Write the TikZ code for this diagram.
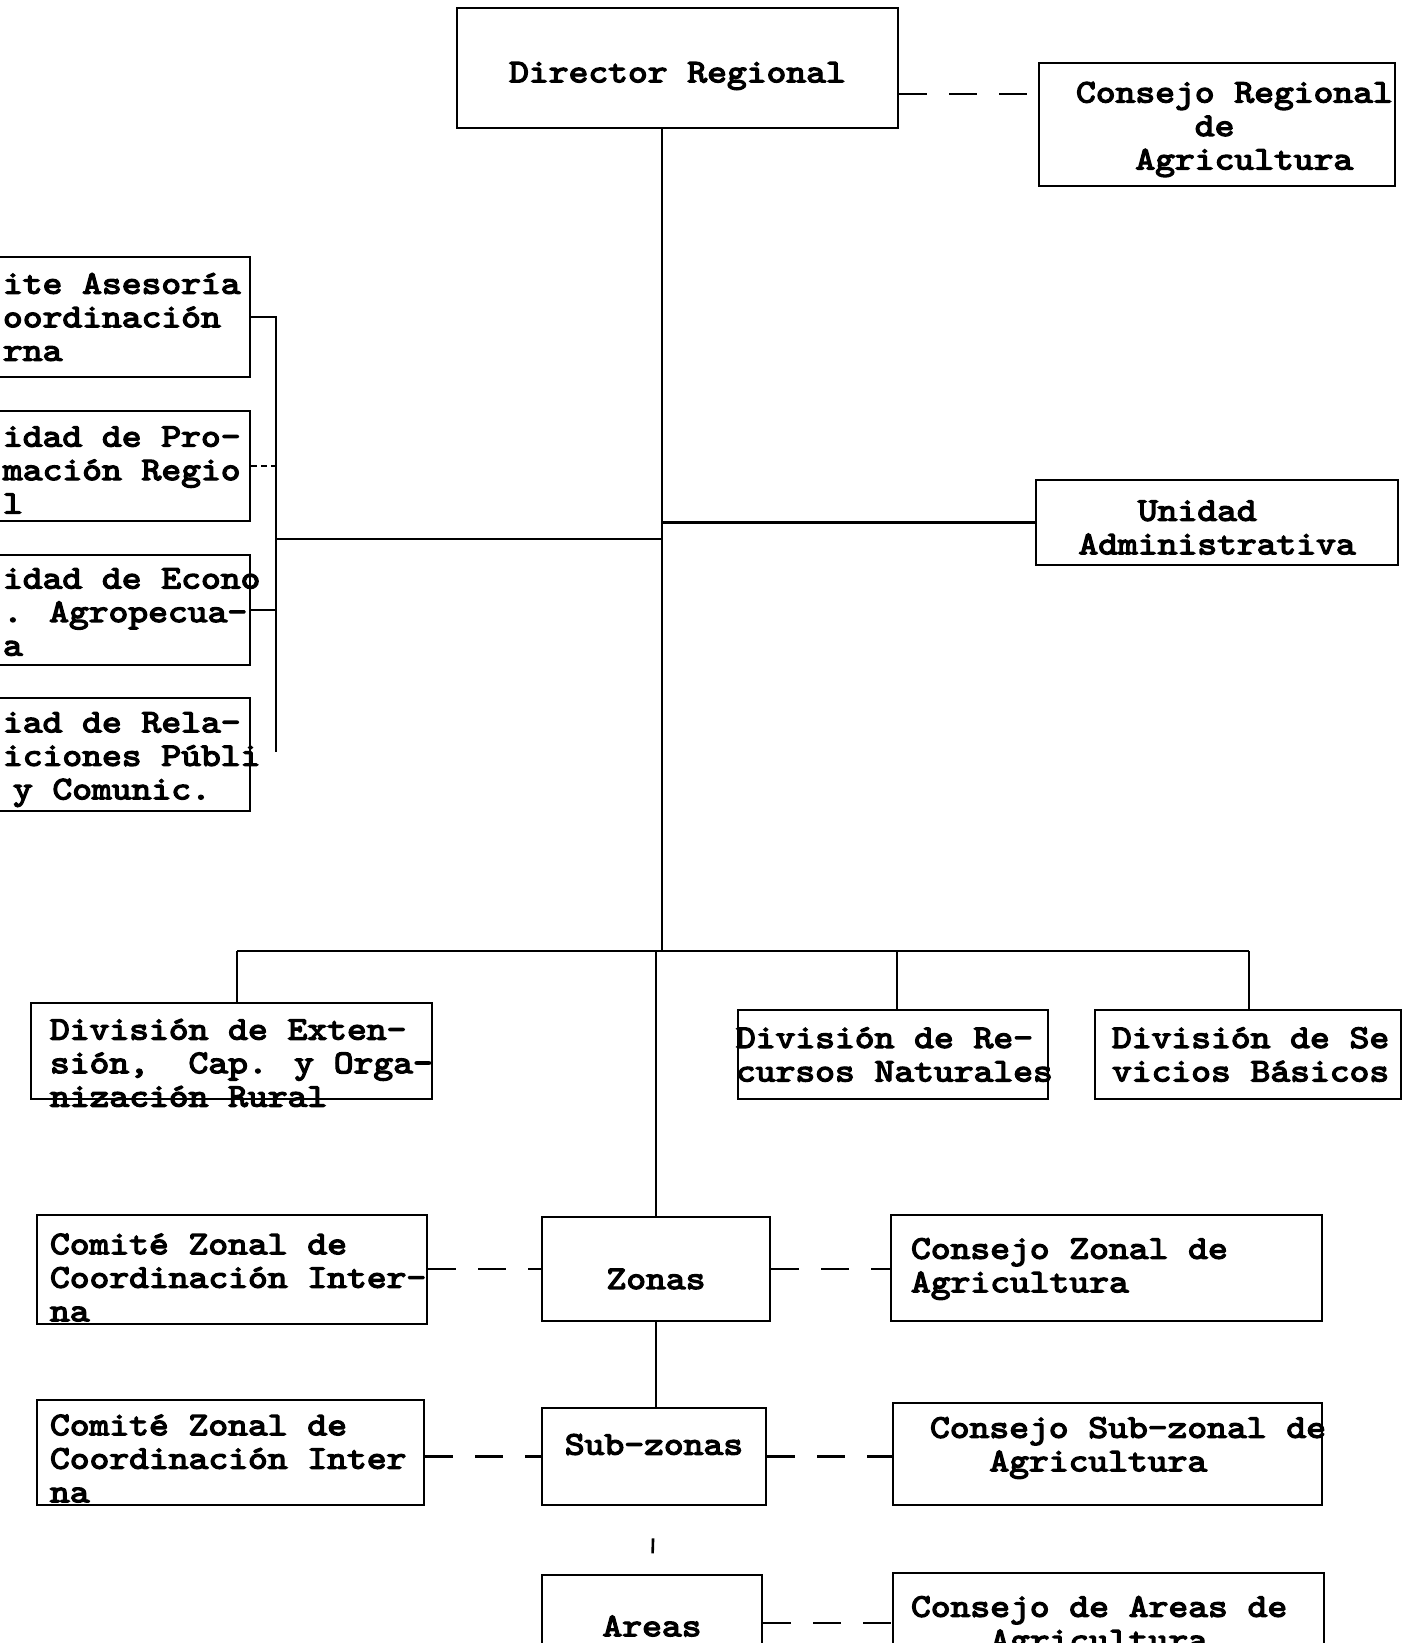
\documentclass[tikz,border=0pt]{standalone}
\usepackage{fontspec}
\usepackage{tikz}
\newfontfamily\twfam{lmmono10-regular.otf}[FakeStretch=1.143, FakeBold=4]
\newlength\chw \setlength\chw{19.8pt}
\newcommand\chs[1]{\hspace*{#1\chw}}
\newcommand\rowl[2]{\makebox[#1][l]{#2}}
\newcommand\twf{\twfam\fontsize{33}{33.5}\selectfont}
\tikzset{
  box/.style={draw=black, line width=2.8pt, inner sep=0pt},
  tx/.style={font=\twf, inner sep=0pt, align=left},
  link/.style={draw=black, line width=2.6pt},
  dlink/.style={link, dash pattern=on 28pt off 22pt},
}
\begin{document}
\begin{tikzpicture}[x=1pt,y=-1pt]
\useasboundingbox (0,0) rectangle (1406,1643);
\fill[white] (0,0) rectangle (1406,1643);
\clip (0,0) rectangle (1406,1643);

% top
\node[box, minimum width=441pt, minimum height=120pt,
  label={[tx, name=dirt, yshift=-8pt]center:{Director Regional}}] (dir) at (677.5,68) {};
\node[box, minimum width=356pt, minimum height=123pt,
  label={[tx, name=cregt, yshift=-5pt]center:{\rowl{282pt}{Consejo Regional}\\\rowl{282pt}{\chs{6}de}\\\rowl{282pt}{\chs{3}Agricultura}}}] (creg) at (1217,124.5) {};
\node[box, minimum width=362pt, minimum height=85pt,
  label={[tx, name=uat, yshift=-5pt]center:{\rowl{277pt}{\chs{3}Unidad}\\\rowl{277pt}{Administrativa}}}] (ua) at (1217,522.5) {};

% staff boxes (cut at left edge)
\node[box, minimum width=260pt, minimum height=120pt,
  label={[tx, name=s1t]center:{\rowl{234pt}{ite Asesoría}\\\rowl{234pt}{oordinación}\\\rowl{234pt}{rna}}}] (s1) at (120,317) {};
\node[box, minimum width=260pt, minimum height=110pt,
  label={[tx, name=s2t, yshift=-4pt]center:{\rowl{234pt}{idad de Pro-}\\\rowl{234pt}{mación Regio}\\\rowl{234pt}{l}}}] (s2) at (120,466) {};
\node[box, minimum width=260pt, minimum height=110pt,
  label={[tx, name=s3t, yshift=-2pt]center:{\rowl{234pt}{idad de Econo}\\\rowl{234pt}{. Agropecua-}\\\rowl{234pt}{a}}}] (s3) at (120,610) {};
\node[box, minimum width=260pt, minimum height=113pt,
  label={[tx, name=s4t, yshift=-5pt]center:{\rowl{234pt}{iad de Rela-}\\\rowl{234pt}{iciones Públi}\\\rowl{234pt}{\chs{0.5}y Comunic.}}}] (s4) at (120,754.5) {};

% divisions
\node[box, minimum width=401pt, minimum height=96pt,
  label={[tx, name=d1t, yshift=-12pt]center:{\rowl{363pt}{División de Exten-}\\\rowl{363pt}{sión,\chs{2}Cap. y Orga-}\\\rowl{363pt}{nización Rural}}}] (d1) at (231.5,1051) {};
\node[box, minimum width=310pt, minimum height=89pt,
  label={[tx, name=d2t]center:{\rowl{314pt}{División de Re-}\\\rowl{314pt}{cursos Naturales}}}] (d2) at (893,1054.5) {};
\node[box, minimum width=306pt, minimum height=89pt,
  label={[tx, name=d3t]center:{\rowl{272pt}{División de Se}\\\rowl{272pt}{vicios Básicos}}}] (d3) at (1248,1054.5) {};

% zonas row
\node[box, minimum width=390pt, minimum height=109pt,
  label={[tx, name=cz1t, yshift=-8pt]center:{\rowl{364pt}{Comité Zonal de}\\\rowl{364pt}{Coordinación Inter-}\\\rowl{364pt}{na}}}] (cz1) at (232,1269.5) {};
\node[box, minimum width=228pt, minimum height=104pt,
  label={[tx, name=zont, yshift=-10pt]center:{Zonas}}] (zon) at (656,1269) {};
\node[box, minimum width=431pt, minimum height=106pt,
  label={[tx, name=czct, yshift=-1pt]center:{\rowl{391pt}{Consejo Zonal de}\\\rowl{391pt}{Agricultura}}}] (czc) at (1106.5,1268) {};

% sub-zonas row
\node[box, minimum width=387pt, minimum height=105pt,
  label={[tx, name=cz2t, yshift=-6pt]center:{\rowl{361pt}{Comité Zonal de}\\\rowl{361pt}{Coordinación Inter}\\\rowl{361pt}{na}}}] (cz2) at (230.5,1452.5) {};
\node[box, minimum width=224pt, minimum height=97pt,
  label={[tx, name=subt, yshift=12pt]center:{Sub-zonas}}] (sub) at (654,1456.5) {};
\node[box, minimum width=429pt, minimum height=102pt,
  label={[tx, name=cszt, yshift=6pt]center:{\rowl{355pt}{Consejo Sub-zonal de}\\\rowl{355pt}{\chs{3}Agricultura}}}] (csz) at (1107.5,1454) {};

% areas row
\node[box, minimum width=220pt, minimum height=110pt,
  label={[tx, name=aret, yshift=4pt]center:{Areas}}] (are) at (652,1630) {};
\node[box, minimum width=431pt, minimum height=112pt,
  label={[tx, name=cdat, yshift=2pt]center:{\rowl{395pt}{Consejo de Areas de}\\\rowl{395pt}{\chs{4}Agricultura}}}] (cda) at (1108.5,1629) {};

% helper coordinates
\coordinate (mx) at (662,0);
\coordinate (bk4) at (276,752);
\coordinate (bkj) at (276,539);
\coordinate (busl) at (0,951);
\coordinate (d1x) at (237,0);
\coordinate (d2x) at (897,0);
\coordinate (d3x) at (1249,0);

% connectors
\draw[dlink] (dir.east |- 0,94) -- (creg.west |- 0,94);
\draw[link] (dir.south -| mx) -- (busl -| mx);
\draw[link] (busl -| zon.north) -- (zon.north);
\draw[link] (bkj) -- (bkj -| mx);
\draw[link] (ua.west -| mx) -- (ua.west);
\draw[link] (s1.east) -| (bk4);
\draw[link, dash pattern=on 6pt off 4pt] (s2.east) -- (s2.east -| bk4);
\draw[link] (s3.east) -- (s3.east -| bk4);

\draw[link] (busl -| d1x) -- (busl -| d3x);
\draw[link] (busl -| d1x) -- (d1.north -| d1x);
\draw[link] (busl -| d2x) -- (d2.north -| d2x);
\draw[link] (busl -| d3x) -- (d3.north -| d3x);

\draw[dlink] (cz1.east |- zon.west) -- (zon.west);
\draw[dlink] (zon.east) -- (czc.west |- zon.east);
\draw[link] (zon.south) -- (zon.south |- sub.north);
\draw[dlink] (cz2.east |- sub.west) -- (sub.west);
\draw[dlink] (sub.east) -- (csz.west |- sub.east);
\draw[link, dash pattern=on 15pt off 100pt, dash phase=83pt] (sub.south) -- (are.north);
\draw[dlink] (are.east |- 0,1623) -- (cda.west |- 0,1623);
\end{tikzpicture}
\end{document}
